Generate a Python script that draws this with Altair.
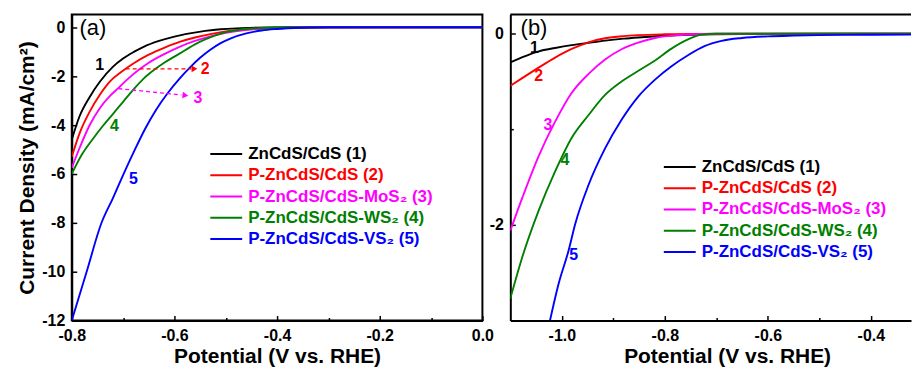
import altair as alt
import pandas as pd

FONT = "Liberation Sans, Arial, sans-serif"

series_names = ["ZnCdS/CdS (1)", "P-ZnCdS/CdS (2)", "P-ZnCdS/CdS-MoS₂ (3)",
                "P-ZnCdS/CdS-WS₂ (4)", "P-ZnCdS/CdS-VS₂ (5)"]
series_colors = ["#000000", "#ff0000", "#ff00ff", "#008000", "#0000ff"]
curve_labels = ["1", "2", "3", "4", "5"]

# ---------------- panel (a) ----------------
a_v1 = [-0.80, -0.785, -0.765, -0.745, -0.72, -0.70, -0.68, -0.66, -0.63, -0.60, -0.57, -0.54, -0.51, -0.47, -0.42, -0.35, -0.20, 0.0]
a_j1 = [-4.60, -3.65, -2.85, -2.22, -1.62, -1.28, -1.02, -0.80, -0.56, -0.38, -0.25, -0.15, -0.08, -0.04, -0.01, 0.0, 0.0, 0.0]
a_v2 = [-0.80, -0.785, -0.765, -0.745, -0.725, -0.705, -0.68, -0.65, -0.62, -0.59, -0.56, -0.53, -0.50, -0.47, -0.43, -0.38, -0.30, 0.0]
a_j2 = [-5.30, -4.35, -3.45, -2.75, -2.20, -1.85, -1.48, -1.12, -0.84, -0.60, -0.42, -0.28, -0.17, -0.10, -0.05, -0.02, 0.0, 0.0]
a_v3 = [-0.80, -0.785, -0.765, -0.745, -0.725, -0.71, -0.69, -0.67, -0.65, -0.62, -0.59, -0.56, -0.53, -0.50, -0.47, -0.44, -0.40, -0.33, -0.25, 0.0]
a_j3 = [-5.75, -4.95, -4.00, -3.30, -2.80, -2.50, -2.10, -1.75, -1.45, -1.10, -0.80, -0.56, -0.37, -0.23, -0.13, -0.07, -0.03, -0.01, 0.0, 0.0]
a_v4 = [-0.80, -0.78, -0.76, -0.74, -0.72, -0.70, -0.68, -0.66, -0.64, -0.62, -0.60, -0.58, -0.56, -0.54, -0.52, -0.50, -0.47, -0.43, -0.38, 0.0]
a_j4 = [-6.00, -5.20, -4.60, -4.05, -3.55, -3.05, -2.55, -2.10, -1.75, -1.45, -1.20, -0.95, -0.70, -0.50, -0.33, -0.20, -0.09, -0.03, -0.01, 0.0]
a_v5 = [-0.80, -0.771, -0.742, -0.72, -0.70, -0.678, -0.657, -0.635, -0.614, -0.59, -0.57, -0.55, -0.53, -0.51, -0.49, -0.46, -0.43, -0.40, -0.35, -0.30, 0.0]
a_j5 = [-12.0, -10.0, -8.0, -7.0, -6.05, -5.05, -4.15, -3.35, -2.72, -2.10, -1.65, -1.25, -0.92, -0.65, -0.45, -0.25, -0.13, -0.07, -0.02, 0.0, 0.0]

a_label_v = [-0.7456, -0.540, -0.554, -0.717, -0.680]
a_label_j = [-1.56, -1.70, -2.90, -4.05, -6.19]

# dashed arrows in panel (a): series 2 and 3
arrow_series = [series_names[1], series_names[2]]
arrow_v_start = [-0.695, -0.7094]
arrow_j_start = [-1.70, -2.51]
arrow_v_end = [-0.567, -0.5864]
arrow_j_end = [-1.70, -2.77]
arrow_head_v = [-0.561, -0.5786]
arrow_head_j = [-1.70, -2.785]

# ---------------- panel (b) ----------------
b_v1 = [-1.10, -1.071, -1.045, -1.013, -0.981, -0.948, -0.916, -0.88, -0.852, -0.80, -0.75, -0.65, -0.322]
b_j1 = [-0.30, -0.235, -0.185, -0.15, -0.12, -0.095, -0.072, -0.052, -0.04, -0.022, -0.012, -0.004, 0.0]
b_v2 = [-1.10, -1.077, -1.045, -1.013, -0.981, -0.948, -0.916, -0.88, -0.852, -0.80, -0.75, -0.322]
b_j2 = [-0.545, -0.465, -0.355, -0.25, -0.16, -0.09, -0.048, -0.025, -0.015, -0.006, -0.002, 0.0]
b_v3 = [-1.10, -1.077, -1.045, -1.013, -0.981, -0.948, -0.916, -0.884, -0.852, -0.819, -0.775, -0.74, -0.70, -0.322]
b_j3 = [-2.06, -1.72, -1.28, -0.92, -0.62, -0.42, -0.27, -0.163, -0.094, -0.045, -0.015, -0.005, 0.0, 0.0]
b_v4 = [-1.10, -1.077, -1.045, -1.013, -0.981, -0.948, -0.916, -0.884, -0.852, -0.819, -0.787, -0.755, -0.729, -0.70, -0.322]
b_j4 = [-2.77, -2.34, -1.85, -1.44, -1.09, -0.85, -0.64, -0.50, -0.39, -0.28, -0.156, -0.06, -0.01, 0.0, 0.0]
b_v5 = [-1.023, -1.0065, -0.987, -0.974, -0.948, -0.916, -0.884, -0.852, -0.819, -0.787, -0.755, -0.723, -0.69, -0.65, -0.60, -0.55, -0.45, -0.322]
b_j5 = [-3.0, -2.62, -2.27, -1.99, -1.58, -1.20, -0.90, -0.66, -0.48, -0.34, -0.225, -0.13, -0.075, -0.045, -0.028, -0.02, -0.012, -0.01]

b_label_v = [-1.053, -1.045, -1.027, -0.994, -0.977]
b_label_j = [-0.155, -0.44, -0.95, -1.32, -2.31]

panel_tags = ["(a)", "(b)"]
tag_v = [-0.785, -1.08]
tag_j = [-0.05, 0.055]

x_ticks_a = [-0.8, -0.7, -0.6, -0.5, -0.4, -0.3, -0.2, -0.1, 0.0]
y_ticks_a = [0, -1, -2, -3, -4, -5, -6, -7, -8, -9, -10, -11, -12]
x_ticks_b = [-1.0, -0.9, -0.8, -0.7, -0.6, -0.5, -0.4]
y_ticks_b = [0, -1, -2]
x_range_b = [-1.1, -0.322]
y_top_b = 0.2


def curves(vs, js):
    rows = []
    for name, v, j in zip(series_names, vs, js):
        for vv, jj in zip(v, j):
            rows.append({"series": name, "v": vv, "j": jj})
    return pd.DataFrame(rows)


df_a = curves([a_v1, a_v2, a_v3, a_v4, a_v5], [a_j1, a_j2, a_j3, a_j4, a_j5])
df_b = curves([b_v1, b_v2, b_v3, b_v4, b_v5], [b_j1, b_j2, b_j3, b_j4, b_j5])
lab_a = pd.DataFrame({"series": series_names, "t": curve_labels, "v": a_label_v, "j": a_label_j})
lab_b = pd.DataFrame({"series": series_names, "t": curve_labels, "v": b_label_v, "j": b_label_j})
arrows = pd.DataFrame({
    "series": arrow_series * 2,
    "aid": [0, 1, 0, 1],
    "v": arrow_v_start + arrow_v_end,
    "j": arrow_j_start + arrow_j_end,
})

color_scale = alt.Scale(domain=series_names, range=series_colors)
label_color_expr = " : ".join(
    f"datum.value == '{n}' ? '{c}'" for n, c in zip(series_names[:-1], series_colors[:-1])
) + f" : '{series_colors[-1]}'"

XLAB = "round(abs(datum.value)*10) % 2 == 0 ? (datum.value < -0.001 ? '-' : '') + format(abs(datum.value), '.1f') : ''"
XTICK = {"expr": "round(abs(datum.value)*10) % 2 == 0 ? -5 : -3"}
YLAB = "datum.value % 2 == 0 ? (datum.value < 0 ? '-' : '') + format(abs(datum.value), 'd') : ''"
YTICK = {"expr": "datum.value % 2 == 0 ? -5 : -3"}


def legend(lx, ly):
    return alt.Legend(orient="none", legendX=lx, legendY=ly, title=None,
                      symbolType="M-2,0H2", symbolSize=256, symbolStrokeWidth=2,
                      labelFont=FONT, labelFontSize=17, labelFontWeight="bold",
                      labelColor={"expr": label_color_expr}, labelOffset=13,
                      rowPadding=4.3, padding=0, labelLimit=0)


def x_axis(vals, title, **kw):
    return alt.Axis(values=vals, labelExpr=XLAB, tickSize=XTICK, title=title, orient="bottom",
                    labelPadding=12, titlePadding=0, **kw)


def y_axis(vals, title):
    return alt.Axis(values=vals, labelExpr=YLAB, tickSize=YTICK, title=title, orient="left",
                    labelPadding=12, titlePadding=4)


def panel(df, lab, xs, ys, xax, yax, lg, tag_idx):
    lines = alt.Chart(df).mark_line(strokeWidth=1.9, interpolate="monotone", clip=True).encode(
        x=alt.X("v:Q", scale=xs, axis=xax),
        y=alt.Y("j:Q", scale=ys, axis=yax),
        color=alt.Color("series:N", scale=color_scale, legend=lg, sort=series_names),
    )
    nums = alt.Chart(lab).mark_text(font=FONT, fontSize=16, fontWeight="bold").encode(
        x=alt.X("v:Q", scale=xs),
        y=alt.Y("j:Q", scale=ys),
        text="t:N",
        color=alt.Color("series:N", scale=color_scale, legend=None),
    )
    tag = alt.Chart(pd.DataFrame({"t": [panel_tags[tag_idx]], "v": [tag_v[tag_idx]], "j": [tag_j[tag_idx]]})
                    ).mark_text(font=FONT, fontSize=22, align="left", color="black").encode(
        x=alt.X("v:Q", scale=xs),
        y=alt.Y("j:Q", scale=ys),
        text="t:N",
    )
    return [lines, nums, tag]


xs_a = alt.Scale(domain=[-0.8, 0.0], nice=False, zero=False)
ys_a = alt.Scale(domain=[-12, 0.52], nice=False, zero=False)
xs_b = alt.Scale(domain=x_range_b, nice=False, zero=False)
ys_b = alt.Scale(domain=[-3, y_top_b], nice=False, zero=False)

layers_a = panel(df_a, lab_a, xs_a, ys_a,
                 x_axis(x_ticks_a, "Potential (V vs. RHE)"),
                 y_axis(y_ticks_a, "Current Density (mA/cm²)"),
                 legend(146, 131), 0)

arrow_lines = alt.Chart(arrows).mark_line(strokeWidth=1.3, strokeDash=[4, 3]).encode(
    x=alt.X("v:Q", scale=xs_a),
    y=alt.Y("j:Q", scale=ys_a),
    detail="aid:N",
    color=alt.Color("series:N", scale=color_scale, legend=None),
)
heads = []
for i, ang in enumerate([0, 6]):
    heads.append(alt.Chart(pd.DataFrame({"series": [arrow_series[i]], "v": [arrow_head_v[i]], "j": [arrow_head_j[i]]}))
                 .mark_point(shape="triangle-right", filled=True, size=45, opacity=1, angle=ang).encode(
        x=alt.X("v:Q", scale=xs_a),
        y=alt.Y("j:Q", scale=ys_a),
        color=alt.Color("series:N", scale=color_scale, legend=None),
    ))

panel_a = alt.layer(*layers_a, arrow_lines, *heads).properties(
    width=412, height=307, view=alt.ViewBackground(stroke="black", strokeWidth=2))

layers_b = panel(df_b, lab_b, xs_b, ys_b,
                 x_axis(x_ticks_b, "Potential (V vs. RHE)", titleX=217.5),
                 y_axis(y_ticks_b, None),
                 legend(161, 144), 1)
top_border = alt.Chart(pd.DataFrame({"k": [0]})).mark_rule(color="black", strokeWidth=2).encode(
    x=alt.datum(x_range_b[0], scale=xs_b),
    x2=alt.datum(x_range_b[1]),
    y=alt.datum(y_top_b, scale=ys_b),
)
panel_b = alt.layer(*layers_b, top_border).properties(width=402, height=307)

chart = alt.hconcat(panel_a, panel_b, spacing=28, bounds="flush").resolve_scale(
    color="independent"
).properties(
    padding={"left": 15, "top": 13, "right": 0, "bottom": 0}, background="white"
).configure_view(stroke=None).configure_axis(
    grid=False, domainColor="black", domainWidth=2, tickColor="black", tickWidth=1.5,
    labelFont=FONT, labelFontSize=16, labelFontWeight="bold", labelColor="black",
    titleFont=FONT, titleFontSize=21, titleFontWeight="bold", titleColor="black",
    labelOverlap=False, labelFlush=False,
)

chart.save("out.html", embed_options={"renderer": "svg", "actions": False})
